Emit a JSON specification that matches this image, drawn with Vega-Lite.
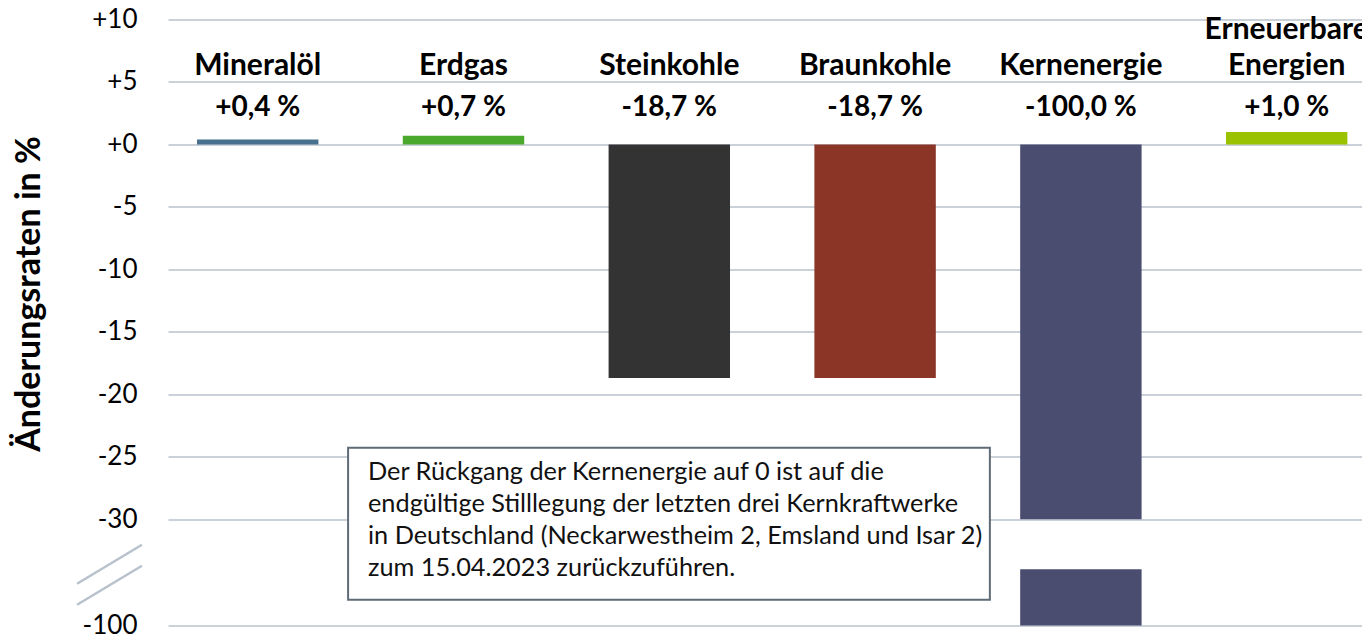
{
  "$schema": "https://vega.github.io/schema/vega-lite/v6.json",
  "width": 1194,
  "height": 606,
  "autosize": {"type": "none"},
  "padding": {"left": 168, "top": 19.5, "right": 0, "bottom": 10.5},
  "background": "white",
  "config": {
    "view": {"stroke": null},
    "font": "Lato",
    "text": {"lineBreak": "\n"},
    "axisY": {
      "domain": false,
      "ticks": false,
      "tickSize": 0,
      "grid": true,
      "gridColor": "#B8C2CC",
      "gridWidth": 1.6,
      "labelFont": "Lato",
      "labelFontSize": 26,
      "labelColor": "#000000",
      "labelPadding": 31,
      "titleFont": "Lato",
      "titleFontSize": 34,
      "titleFontWeight": "bold",
      "titleColor": "#000000",
      "titleX": -139,
      "titleY": 274,
      "titleAlign": "center",
      "titleBaseline": "middle",
      "titleAngle": -90
    }
  },
  "datasets": {
    "kategorien": [
      {"kategorie": "Mineralöl", "name": "Mineralöl", "wert": "+0,4 %", "zeilen": 1},
      {"kategorie": "Erdgas", "name": "Erdgas", "wert": "+0,7 %", "zeilen": 1},
      {"kategorie": "Steinkohle", "name": "Steinkohle", "wert": "-18,7 %", "zeilen": 1},
      {"kategorie": "Braunkohle", "name": "Braunkohle", "wert": "-18,7 %", "zeilen": 1},
      {"kategorie": "Kernenergie", "name": "Kernenergie", "wert": "-100,0 %", "zeilen": 1},
      {"kategorie": "Erneuerbare Energien", "name": "Erneuerbare\nEnergien", "wert": "+1,0 %", "zeilen": 2}
    ],
    "segmente": [
      {"kategorie": "Mineralöl", "von": 0, "bis": 0.4},
      {"kategorie": "Erdgas", "von": 0, "bis": 0.7},
      {"kategorie": "Steinkohle", "von": 0, "bis": -18.7},
      {"kategorie": "Braunkohle", "von": 0, "bis": -18.7},
      {"kategorie": "Kernenergie", "von": 0, "bis": -30},
      {"kategorie": "Kernenergie", "von": -34, "bis": -38.5},
      {"kategorie": "Erneuerbare Energien", "von": 0, "bis": 1.0}
    ],
    "hinweis": [
      {"x1": 0.905, "x2": 4.13, "y1": -24.28, "y2": -36.44, "xt": 1.005, "yt": -26.2,
       "text": ["Der Rückgang der Kernenergie auf 0 ist auf die", "endgültige Stilllegung der letzten drei Kernkraftwerke", "in Deutschland (Neckarwestheim 2, Emsland und Isar 2)", "zum 15.04.2023 zurückzuführen."]}
    ],
    "bruch": [
      {"x1": -0.457, "x2": -0.131, "y1": -35.16, "y2": -32.04},
      {"x1": -0.457, "x2": -0.131, "y1": -36.84, "y2": -33.72}
    ]
  },
  "resolve": {"scale": {"x": "independent"}},
  "layer": [
    {
      "layer": [
        {
          "data": {"name": "segmente"},
          "mark": {"type": "bar"},
          "encoding": {
            "x": {"field": "kategorie", "type": "nominal",
                  "scale": {"domain": ["Mineralöl", "Erdgas", "Steinkohle", "Braunkohle", "Kernenergie", "Erneuerbare Energien"], "paddingInner": 0.41, "paddingOuter": 0.106, "align": 0.665},
                  "axis": null},
            "y": {"field": "von", "type": "quantitative", "title": "Änderungsraten in %",
                  "scale": {"domain": [-38.5, 10], "nice": false, "zero": false},
                  "axis": {"values": [10, 5, 0, -5, -10, -15, -20, -25, -30, -38.5],
                           "labelExpr": "datum.value < -35 ? '-100' : (datum.value < 0 ? '-' + abs(datum.value) : '+' + datum.value)"}},
            "y2": {"field": "bis"},
            "color": {"field": "kategorie", "type": "nominal", "legend": null,
                      "scale": {"domain": ["Mineralöl", "Erdgas", "Steinkohle", "Braunkohle", "Kernenergie", "Erneuerbare Energien"],
                                "range": ["#47708E", "#4AA82C", "#333333", "#8B3527", "#4B4D70", "#9BC200"]}}
          }
        },
        {
          "data": {"name": "kategorien"},
          "transform": [{"filter": "datum.zeilen == 1"}],
          "mark": {"type": "text", "font": "Lato", "fontSize": 30, "fontWeight": "bold", "color": "#000000", "align": "center", "baseline": "alphabetic"},
          "encoding": {
            "x": {"field": "kategorie", "type": "nominal",
                  "scale": {"domain": ["Mineralöl", "Erdgas", "Steinkohle", "Braunkohle", "Kernenergie", "Erneuerbare Energien"], "paddingInner": 0.41, "paddingOuter": 0.106, "align": 0.665},
                  "axis": null},
            "y": {"datum": 5.56, "type": "quantitative", "title": "Änderungsraten in %"},
            "text": {"field": "name"}
          }
        },
        {
          "data": {"name": "kategorien"},
          "transform": [{"filter": "datum.zeilen == 2"}],
          "mark": {"type": "text", "font": "Lato", "fontSize": 30, "fontWeight": "bold", "color": "#000000", "align": "center", "baseline": "alphabetic", "lineHeight": 36},
          "encoding": {
            "x": {"field": "kategorie", "type": "nominal",
                  "scale": {"domain": ["Mineralöl", "Erdgas", "Steinkohle", "Braunkohle", "Kernenergie", "Erneuerbare Energien"], "paddingInner": 0.41, "paddingOuter": 0.106, "align": 0.665},
                  "axis": null},
            "y": {"datum": 8.45, "type": "quantitative", "title": "Änderungsraten in %"},
            "text": {"field": "name"}
          }
        },
        {
          "data": {"name": "kategorien"},
          "mark": {"type": "text", "font": "Lato", "fontSize": 28, "fontWeight": "bold", "color": "#000000", "align": "center", "baseline": "alphabetic"},
          "encoding": {
            "x": {"field": "kategorie", "type": "nominal",
                  "scale": {"domain": ["Mineralöl", "Erdgas", "Steinkohle", "Braunkohle", "Kernenergie", "Erneuerbare Energien"], "paddingInner": 0.41, "paddingOuter": 0.106, "align": 0.665},
                  "axis": null},
            "y": {"datum": 2.24, "type": "quantitative", "title": "Änderungsraten in %"},
            "text": {"field": "wert"}
          }
        }
      ]
    },
    {
      "data": {"name": "bruch"},
      "mark": {"type": "rule", "color": "#B8C2CC", "strokeWidth": 2.5},
      "encoding": {
        "x": {"field": "x1", "type": "quantitative", "scale": {"domain": [0, 6], "nice": false, "zero": false}, "axis": null},
        "x2": {"field": "x2"},
        "y": {"field": "y1", "type": "quantitative", "title": "Änderungsraten in %"},
        "y2": {"field": "y2"}
      }
    },
    {
      "data": {"name": "hinweis"},
      "mark": {"type": "rect", "fill": "#FFFFFF", "stroke": "#5F6B76", "strokeWidth": 2},
      "encoding": {
        "x": {"field": "x1", "type": "quantitative", "scale": {"domain": [0, 6], "nice": false, "zero": false}, "axis": null},
        "x2": {"field": "x2"},
        "y": {"field": "y1", "type": "quantitative", "title": "Änderungsraten in %"},
        "y2": {"field": "y2"}
      }
    },
    {
      "data": {"name": "hinweis"},
      "mark": {"type": "text", "font": "Lato", "fontSize": 25.3, "color": "#111111", "align": "left", "baseline": "middle", "lineHeight": 32},
      "encoding": {
        "x": {"field": "xt", "type": "quantitative", "scale": {"domain": [0, 6], "nice": false, "zero": false}, "axis": null},
        "y": {"field": "yt", "type": "quantitative", "title": "Änderungsraten in %"},
        "text": {"field": "text"}
      }
    }
  ]
}
